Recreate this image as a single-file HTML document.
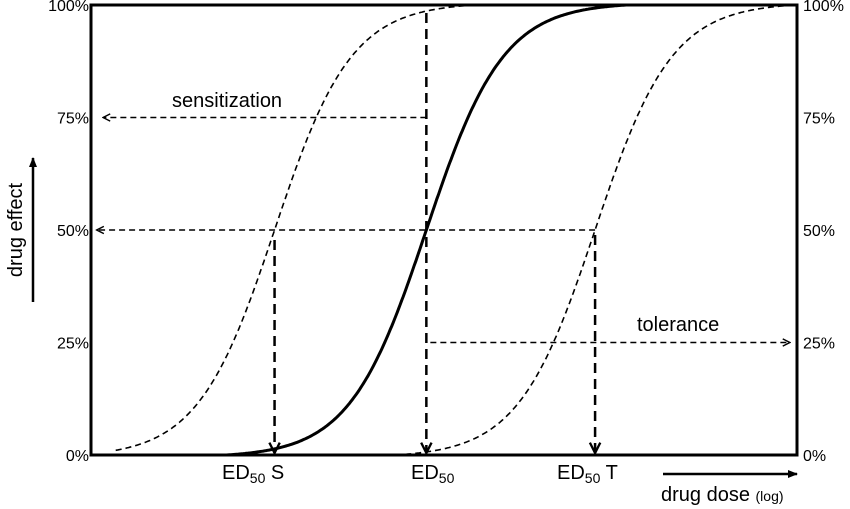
<!DOCTYPE html>
<html><head><meta charset="utf-8"><style>
body{margin:0;background:#fff}
svg{display:block;font-family:"Liberation Sans",Arial,sans-serif}
</style></head><body>
<svg id="c" width="850" height="509" viewBox="0 0 850 509">
<defs>
<marker id="ah" viewBox="0 0 10 10" refX="9" refY="5" markerWidth="9" markerHeight="9" markerUnits="userSpaceOnUse" orient="auto"><path d="M1,1 L9,5 L1,9" fill="none" stroke="#000" stroke-width="1.6"/></marker>
<marker id="ahb" viewBox="0 0 10 10" refX="9" refY="5" markerWidth="13" markerHeight="13" markerUnits="userSpaceOnUse" orient="auto"><path d="M1,1 L9,5 L1,9" fill="none" stroke="#000" stroke-width="1.8"/></marker>
<marker id="af" viewBox="0 0 10 10" refX="9" refY="5" markerWidth="10" markerHeight="10" markerUnits="userSpaceOnUse" orient="auto"><path d="M0,1 L10,5 L0,9z" fill="#000"/></marker>
</defs>
<g id="plot"></g>
</svg>
<script>
const curveNames=['sensitization','normal','tolerance'];
const ed50Values=[2.6,4.75,7.14];
const halfSpan=2.83;
const yTicks=[0,25,50,75,100];
const yTickLabels=['0%','25%','50%','75%','100%'];
const L=91,R=797,T=5,B=455;
const xs=v=>L+v/10*(R-L);
const ys=p=>B-p/100*(B-T);
const g=document.getElementById('plot');
const NS='http://www.w3.org/2000/svg';
function mk(tag,attrs,name){const e=document.createElementNS(NS,tag);for(const k in attrs)e.setAttribute(k,attrs[k]);


g.appendChild(e);return e;}
function resp(x,m){const t=(x-m)/halfSpan;if(t<=-1)return 0;if(t>=1)return 100;const k=2.6;return 50+50*Math.tanh(k*t)/Math.tanh(k);}
mk('rect',{x:L,y:T,width:R-L,height:B-T,fill:'none',stroke:'#000','stroke-width':3},'plot-frame');
ed50Values.forEach((m,i)=>{let d='';for(let x=Math.max(m-halfSpan,0.35);x<=Math.min(m+halfSpan,10)+1e-9;x+=0.02){d+=(d?'L':'M')+xs(x).toFixed(1)+','+ys(resp(x,m)).toFixed(1);}
const solid=i===1;
mk('path',{d:d,fill:'none',stroke:'#000','stroke-width':solid?3:1.6,'stroke-dasharray':solid?'none':'6 4'},'curve-'+curveNames[i]);});
yTicks.forEach((v,i)=>{
mk('text',{x:89,y:ys(v)+6,'text-anchor':'end','font-size':16},'y-tick-left-'+v).textContent=yTickLabels[i];
mk('text',{x:803,y:ys(v)+6,'font-size':16},'y-tick-right-'+v).textContent=yTickLabels[i];});
const [S,N,Tt]=ed50Values;
mk('line',{x1:xs(N),y1:ys(75),x2:xs(0.17),y2:ys(75),stroke:'#000','stroke-width':1.5,'stroke-dasharray':'6 4','marker-end':'url(#ah)'},'sensitization-arrow');
mk('line',{x1:xs(Tt),y1:ys(50),x2:xs(0.08),y2:ys(50),stroke:'#000','stroke-width':1.5,'stroke-dasharray':'6 4','marker-end':'url(#ah)'},'ed50-50pct-arrow');
mk('line',{x1:xs(N)+4,y1:ys(25),x2:xs(9.9),y2:ys(25),stroke:'#000','stroke-width':1.5,'stroke-dasharray':'6 4','marker-end':'url(#ah)'},'tolerance-arrow');
mk('line',{x1:xs(N),y1:T+8,x2:xs(N),y2:B-2,stroke:'#000','stroke-width':2.5,'stroke-dasharray':'10 6','marker-end':'url(#ahb)'},'ed50-drop-arrow');
mk('line',{x1:xs(S),y1:ys(50)+10,x2:xs(S),y2:B-2,stroke:'#000','stroke-width':2.5,'stroke-dasharray':'10 6','marker-end':'url(#ahb)'},'ed50s-drop-arrow');
mk('line',{x1:xs(Tt),y1:ys(50)+5,x2:xs(Tt),y2:B-2,stroke:'#000','stroke-width':2.5,'stroke-dasharray':'10 6','marker-end':'url(#ahb)'},'ed50t-drop-arrow');
mk('text',{x:172,y:107,'font-size':20},'sensitization-label').textContent='sensitization';
mk('text',{x:637,y:331,'font-size':20},'tolerance-label').textContent='tolerance';
const x1=mk('text',{x:222,y:479,'font-size':20},'ed50s-label');x1.innerHTML='ED<tspan font-size="14" dy="4">50</tspan><tspan dy="-4"> S</tspan>';
const x2=mk('text',{x:411,y:479,'font-size':20},'ed50-label');x2.innerHTML='ED<tspan font-size="14" dy="4">50</tspan>';
const x3=mk('text',{x:557,y:479,'font-size':20},'ed50t-label');x3.innerHTML='ED<tspan font-size="14" dy="4">50</tspan><tspan dy="-4"> T</tspan>';
mk('line',{x1:663,y1:474,x2:797,y2:474,stroke:'#000','stroke-width':2.5,'marker-end':'url(#af)'},'x-axis-arrow');
const xt=mk('text',{x:661,y:501,'font-size':20},'x-axis-title');xt.innerHTML='drug dose <tspan font-size="14">(log)</tspan>';
mk('line',{x1:33,y1:302,x2:33,y2:158,stroke:'#000','stroke-width':2.5,'marker-end':'url(#af)'},'y-axis-arrow');
mk('text',{x:0,y:0,'font-size':20,'text-anchor':'middle',transform:'translate(22,230) rotate(-90)'},'y-axis-title').textContent='drug effect';
</script>
</body></html>
